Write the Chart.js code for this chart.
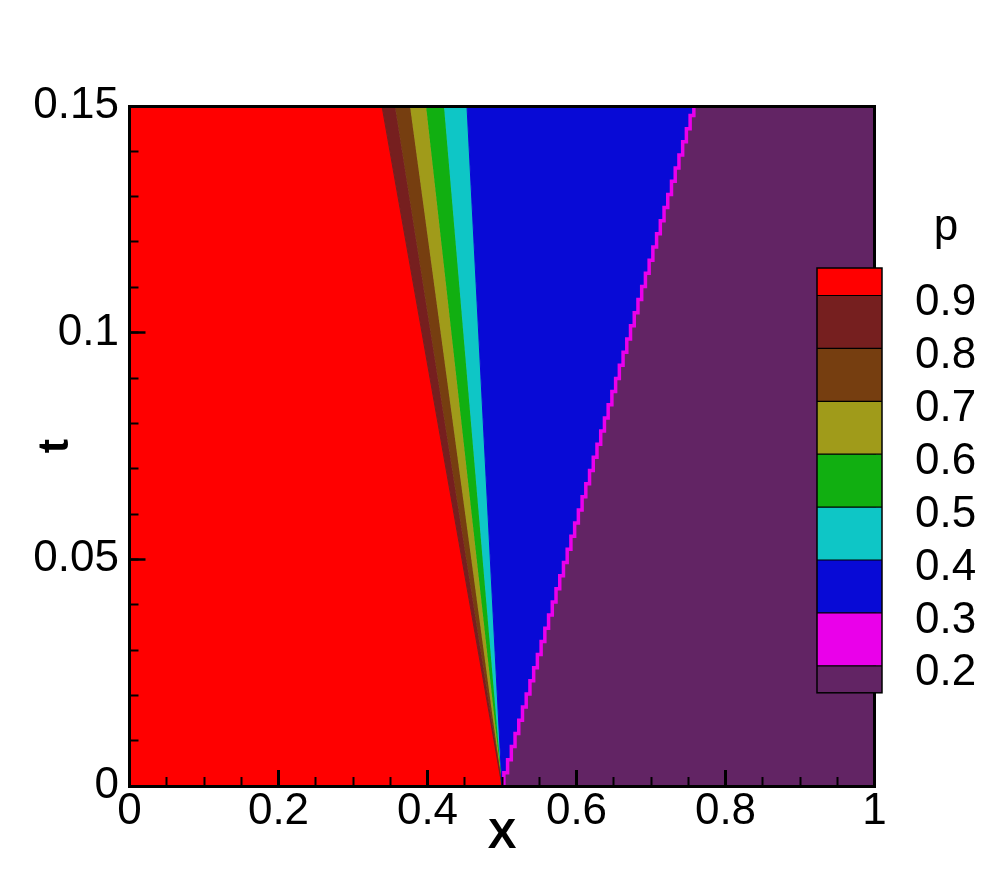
<!DOCTYPE html>
<html><head><meta charset="utf-8">
<script src="https://cdn.jsdelivr.net/npm/chart.js@4.4.0/dist/chart.umd.min.js"></script>
<style>html,body{margin:0;padding:0;background:#fff;}canvas{display:block;}</style>
</head><body>
<canvas id="c" width="994" height="884"></canvas>
<script>
// ---------------- data ----------------
const xTickValues = [0, 0.2, 0.4, 0.6, 0.8, 1];
const xTickLabels = ['0', '0.2', '0.4', '0.6', '0.8', '1'];
const yTickValues = [0, 0.05, 0.1, 0.15];
const yTickLabels = ['0', '0.05', '0.1', '0.15'];
const contourLevels = [0.9, 0.8, 0.7, 0.6, 0.5, 0.4, 0.3, 0.2];
const levelLabels = ['0.9', '0.8', '0.7', '0.6', '0.5', '0.4', '0.3', '0.2'];
const bandColors = ['#FF0000', '#761F1F', '#763E10', '#A09B1A', '#11AF11', '#0EC6C6', '#080AD6', '#EA00EA', '#622464'];
const tTop = 0.15;
const fanOriginX = 0.5;
// x at t = 0.15 of the contour lines p = 0.9, 0.8, 0.7, 0.6, 0.5, 0.4 in the rarefaction fan
const fanTopX = [0.3389, 0.3564, 0.3765, 0.3980, 0.4221, 0.4530];
// shock front (staircase) : position and time of each step
const shockX = [0.5025, 0.5075, 0.5125, 0.5175, 0.5225, 0.5275, 0.5325, 0.5375, 0.5425, 0.5475,
  0.5525, 0.5575, 0.5625, 0.5675, 0.5725, 0.5775, 0.5825, 0.5875, 0.5925, 0.5975,
  0.6025, 0.6075, 0.6125, 0.6175, 0.6225, 0.6275, 0.6325, 0.6375, 0.6425, 0.6475,
  0.6525, 0.6575, 0.6625, 0.6675, 0.6725, 0.6775, 0.6825, 0.6875, 0.6925, 0.6975,
  0.7025, 0.7075, 0.7125, 0.7175, 0.7225, 0.7275, 0.7325, 0.7375, 0.7425, 0.7475,
  0.7525, 0.7575];
const shockT = [0, 0.0029, 0.0058, 0.0087, 0.0116, 0.0145, 0.0174, 0.0203, 0.0232, 0.0261,
  0.0290, 0.0319, 0.0348, 0.0377, 0.0406, 0.0435, 0.0464, 0.0493, 0.0522, 0.0551,
  0.0580, 0.0609, 0.0638, 0.0667, 0.0696, 0.0725, 0.0754, 0.0783, 0.0812, 0.0841,
  0.0870, 0.0899, 0.0928, 0.0957, 0.0986, 0.1015, 0.1044, 0.1073, 0.1102, 0.1131,
  0.1160, 0.1189, 0.1218, 0.1247, 0.1276, 0.1305, 0.1334, 0.1363, 0.1392, 0.1421,
  0.1450, 0.1479];

// ---------------- build ----------------
const FONT = "'Liberation Sans', Arial, Helvetica, sans-serif";
const P = (x, y) => ({x, y});
const shockPts = shockX.map((x, i) => P(x, shockT[i]));
const lastShockX = shockX[shockX.length - 1];

const datasets = [];
const poly = (pts, color, order, extra) => Object.assign({
  data: pts, backgroundColor: color, borderColor: color, borderWidth: 1,
  fill: 'shape', pointRadius: 0, tension: 0, order
}, extra || {});

// magenta shock line
datasets.push({
  data: shockPts.concat([P(lastShockX, tTop)]), borderColor: bandColors[7], borderWidth: 3.5,
  stepped: 'after', fill: false, pointRadius: 0, order: 1
});
// post-shock (lowest pressure) region
datasets.push(poly([P(1, 0)].concat(shockPts, [P(lastShockX, tTop), P(1, tTop)]), bandColors[8], 2, {stepped: 'after'}));
// star region
datasets.push(poly([P(fanOriginX, 0), P(fanTopX[5], tTop), P(1, tTop), P(1, 0)], bandColors[6], 3));
// fan bands
for (let i = 0; i < fanTopX.length - 1; i++) {
  datasets.push(poly([P(fanOriginX, 0), P(fanTopX[i], tTop), P(fanTopX[i + 1], tTop)], bandColors[i + 1], 4));
}
// left state
datasets.push(poly([P(0, 0), P(fanOriginX, 0), P(fanTopX[0], tTop), P(0, tTop)], bandColors[0], 5));

const minorX = []; for (let i = 1; i < 20; i++) minorX.push(i * 0.05);
const minorY = []; for (let i = 1; i < 15; i++) minorY.push(i * 0.01);

const setTicks = (vals) => (s) => { s.ticks = vals.map(v => ({value: v})); };

const colorbarPlugin = {
  id: 'colorbar',
  afterDraw(chart) {
    const ctx = chart.ctx;
    const left = 817, width = 65, top = 268, half = 27.5, step = 52.9;
    const edges = [top];
    let y = top + half; edges.push(y);
    for (let i = 0; i < contourLevels.length - 1; i++) { y += step; edges.push(y); }
    edges.push(y + 27);
    ctx.save();
    for (let i = 0; i < bandColors.length; i++) {
      ctx.fillStyle = bandColors[i];
      ctx.fillRect(left, edges[i], width, edges[i + 1] - edges[i]);
    }
    ctx.strokeStyle = '#000'; ctx.lineWidth = 1.2;
    for (let i = 1; i < edges.length - 1; i++) {
      ctx.beginPath(); ctx.moveTo(left, edges[i]); ctx.lineTo(left + width, edges[i]); ctx.stroke();
    }
    ctx.lineWidth = 1.5;
    ctx.strokeRect(left, top, width, edges[edges.length - 1] - top);
    ctx.fillStyle = '#000';
    ctx.font = '44px ' + FONT;
    ctx.textAlign = 'left'; ctx.textBaseline = 'middle';
    for (let i = 0; i < levelLabels.length; i++) ctx.fillText(levelLabels[i], 915, edges[i + 1] + 7.5);
    ctx.textAlign = 'center'; ctx.textBaseline = 'alphabetic';
    ctx.fillText('p', 946, 240);
    ctx.restore();
  }
};

const tickFont = {family: FONT, size: 44};
const titleFont = {family: FONT, size: 43, weight: 'bold'};

new Chart(document.getElementById('c'), {
  type: 'line',
  data: {datasets},
  plugins: [colorbarPlugin],
  options: {
    responsive: false, animation: false, devicePixelRatio: 1,
    layout: {padding: {left: 0, top: 106, right: 119.5, bottom: 0}},
    plugins: {legend: {display: false}, tooltip: {enabled: false}},
    elements: {line: {tension: 0}},
    scales: {
      x: {
        type: 'linear', min: 0, max: 1, position: 'bottom', weight: 0,
        afterBuildTicks: setTicks(xTickValues),
        afterFit: (s) => { s.height = 98; },
        ticks: {callback: (v, i) => xTickLabels[i], font: tickFont, color: '#000', padding: 15, maxRotation: 0, autoSkip: false},
        grid: {drawOnChartArea: false, tickLength: -16, tickWidth: 3, tickColor: '#000', z: 1},
        border: {display: true, color: '#000', width: 3, z: 2},
        title: {display: true, text: 'X', font: titleFont, color: '#000', padding: {top: 0, bottom: 22.5}}
      },
      xm: {
        type: 'linear', min: 0, max: 1, position: 'bottom', weight: -1,
        afterBuildTicks: setTicks(minorX),
        afterFit: (s) => { s.height = 0; },
        ticks: {display: false},
        grid: {drawOnChartArea: false, tickLength: -9, tickWidth: 2, tickColor: '#000', z: 1},
        border: {display: false}
      },
      xt: {
        type: 'linear', min: 0, max: 1, position: 'top',
        afterBuildTicks: setTicks(xTickValues),
        afterFit: (s) => { s.height = 0; },
        ticks: {display: false},
        grid: {drawOnChartArea: false, tickLength: 0, tickColor: 'rgba(0,0,0,0)'},
        border: {display: true, color: '#000', width: 3, z: 2}
      },
      y: {
        type: 'linear', min: 0, max: 0.15, position: 'left', weight: 0,
        afterBuildTicks: setTicks(yTickValues),
        afterFit: (s) => { s.width = 129.5; },
        ticks: {callback: (v, i) => yTickLabels[i], font: tickFont, color: '#000', padding: 26.5, autoSkip: false},
        grid: {drawOnChartArea: false, tickLength: -16, tickWidth: 2.5, tickColor: '#000', z: 1},
        border: {display: true, color: '#000', width: 3, z: 2},
        title: {display: true, text: 't', font: titleFont, color: '#000', padding: {top: 30, bottom: 0}}
      },
      ym: {
        type: 'linear', min: 0, max: 0.15, position: 'left', weight: -1,
        afterBuildTicks: setTicks(minorY),
        afterFit: (s) => { s.width = 0; },
        ticks: {display: false},
        grid: {drawOnChartArea: false, tickLength: -9, tickWidth: 2, tickColor: '#000', z: 1},
        border: {display: false}
      },
      yr: {
        type: 'linear', min: 0, max: 0.15, position: 'right',
        afterBuildTicks: setTicks(yTickValues),
        afterFit: (s) => { s.width = 0; },
        ticks: {display: false},
        grid: {drawOnChartArea: false, tickLength: 0, tickColor: 'rgba(0,0,0,0)'},
        border: {display: true, color: '#000', width: 3, z: 2}
      }
    }
  }
});
</script>
</body></html>
